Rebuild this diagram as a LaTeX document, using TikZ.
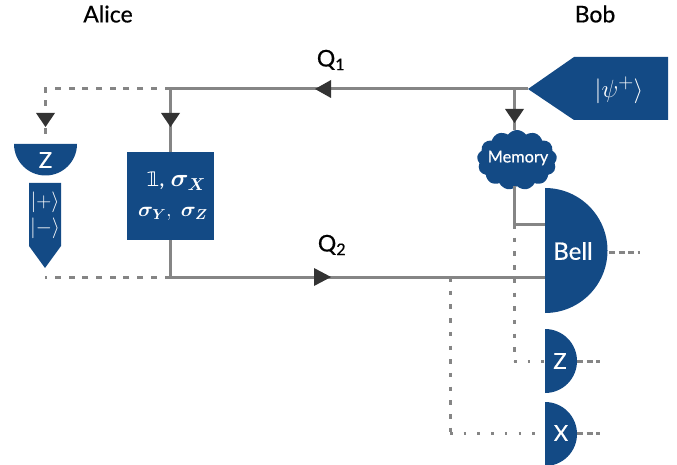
\documentclass[tikz,border=0pt]{standalone}
\usepackage{amsmath,amssymb,bm}
\usepackage{fontspec}
\setmainfont{Lato}[BoldFont=Lato,BoldFeatures={FakeBold=0.5}]
\newfontfamily\dbl{DejaVu Sans}
\usetikzlibrary{shapes.symbols}
\definecolor{qblue}{HTML}{134A85}
\definecolor{qgray}{HTML}{858585}
\definecolor{qdark}{HTML}{333333}
\tikzset{
  wire/.style={draw=qgray,line width=3pt},
  dashwire/.style={draw=qgray,line width=3pt,dash pattern=on 6pt off 7.7pt},
  dotwire/.style={draw=qgray,line width=3pt,dash pattern=on 4.5pt off 9.2pt},
  dotflat/.style={draw=qgray,line width=3pt,dash pattern=on 2.5pt off 11.2pt},
  outwire/.style={draw=qgray,line width=3pt,dash pattern=on 6pt off 3.5pt},
  shapefill/.style={fill=qblue,draw=none},
  tri/.style={fill=qdark,draw=none},
  head/.style={font=\fontsize{23}{26}\selectfont\bfseries,text=black,inner sep=0pt},
  onblue/.style={text=white,inner sep=0pt,align=center},
}
\begin{document}
\begin{tikzpicture}[x=1pt,y=-1pt]
\useasboundingbox (0,0) rectangle (677,465);
% coordinates
\coordinate (srcTip) at (528,89);
\coordinate (corner) at (45,89);
\coordinate (topJ) at (170.5,89);
\coordinate (memJ) at (514,89);
\coordinate (botL) at (45,277);
\coordinate (botJ) at (170.5,277);
\coordinate (xJ) at (450,277);
\coordinate (bellIn) at (545,277);
\coordinate (bellIn2) at (545,224);
\coordinate (memDown) at (514,224);
\coordinate (zDot) at (514,361);
\coordinate (zIn) at (545,361);
\coordinate (xDot) at (450,433);
\coordinate (xIn) at (545,433);
\coordinate (bellOut) at (607,252);
\coordinate (bellEnd) at (640,252);
\coordinate (zOut) at (577,361);
\coordinate (zEnd) at (600,361);
\coordinate (xOut) at (577,433);
\coordinate (xEnd) at (600,433);
\coordinate (zTop) at (45,144);
\coordinate (arrowEnd) at (45,136);
% nodes
\node[shapefill,minimum width=87pt,minimum height=88pt,inner sep=0pt] (box) at (170.5,196) {};
\node[cloud,cloud puffs=13,cloud puff arc=110,aspect=1.3,shapefill,minimum width=80pt,minimum height=60pt,inner sep=0pt] (mem) at (517,160) {};
% wires
\draw[wire] (srcTip) -- (topJ) -- (box.north -| topJ);
\draw[wire] (memJ) -- (mem.north -| memJ);
\draw[wire] (box.south -| botJ) -- (botJ) -- (bellIn);
\draw[wire] (mem.south -| memDown) -- (memDown) -- (bellIn2);
\draw[dashwire] (topJ) -- (corner) -- (arrowEnd);
\draw[dashwire] (botJ) -- (botL);
\draw[dotwire] (memDown) -- (zDot);
\draw[dotwire] (xJ) -- (xDot);
\draw[dotflat] (zDot) -- (zIn);
\draw[dotflat] (xDot) -- (xIn);
\draw[outwire] (bellOut) ++(2,0) -- (bellEnd);
\draw[outwire] (zOut) -- (zEnd);
\draw[outwire] (xOut) -- (xEnd);
% triangles
\fill[tri] (36,113) -- (55,113) -- (45.5,127) -- cycle;
\fill[tri] (161,113) -- (180,113) -- (170.5,127) -- cycle;
\fill[tri] (505,109) -- (524,109) -- (514.5,123) -- cycle;
\fill[tri] (331,80) -- (331,98) -- (315,89) -- cycle;
\fill[tri] (314,268) -- (314,286) -- (331,277) -- cycle;
% filled shapes
\fill[shapefill] (528,89) -- (574,57) -- (668,57) -- (668,120) -- (574,120) -- cycle;
\fill[shapefill] (14,144) arc (180:360:31.5pt) -- cycle;
\fill[shapefill] (29,183) -- (61,183) -- (61,246) -- (45,268) -- (29,246) -- cycle;
\fill[shapefill] (545,188) arc (90:-90:62.5pt) -- cycle;
\fill[shapefill] (545,329) arc (90:-90:32pt) -- cycle;
\fill[shapefill] (545,402) arc (90:-90:32pt) -- cycle;
% text
\node[head] (alice) at (108,14) {Alice};
\node[head] (bob) at (595,14) {Bob};
\node[head] (q1) at (331,60) {Q$_{\text{\bfseries 1}}$};
\node[head] (q2) at (332,245) {Q$_{\text{\bfseries 2}}$};
\node[onblue,font=\fontsize{28}{30}\selectfont] (psi) at (619,90) {$|\psi^+\rangle$};
\node[onblue,font=\fontsize{16.3}{18}\selectfont\bfseries] (memlabel) at (518,158) {Memory};
\node[onblue,font=\fontsize{24}{26}\selectfont\bfseries] (belllabel) at (573,251) {Bell};
\node[onblue,font=\fontsize{22}{24}\selectfont\bfseries] (zl) at (45.5,160) {Z};
\node[onblue,font=\fontsize{22}{24}\selectfont\bfseries] (zr) at (560,361) {Z};
\node[onblue,font=\fontsize{22}{24}\selectfont\bfseries] (xr) at (561,433) {X};
\node[onblue,font=\fontsize{20}{22}\selectfont] (plus) at (45,202) {$|{+}\rangle$};
\node[onblue,font=\fontsize{20}{22}\selectfont] (minus) at (45,228) {$|{-}\rangle$};
\node[onblue,anchor=east,font=\fontsize{23}{25}\selectfont] (ops1) at (206,181) {{\dbl\fontsize{20}{22}\selectfont 𝟙},~$\bm{\sigma_X}$};
\node[onblue,anchor=east,font=\fontsize{22}{24}\selectfont] (ops2) at (208,214) {$\bm{\sigma_Y},\ \bm{\sigma_Z}$};
\end{tikzpicture}
\end{document}
